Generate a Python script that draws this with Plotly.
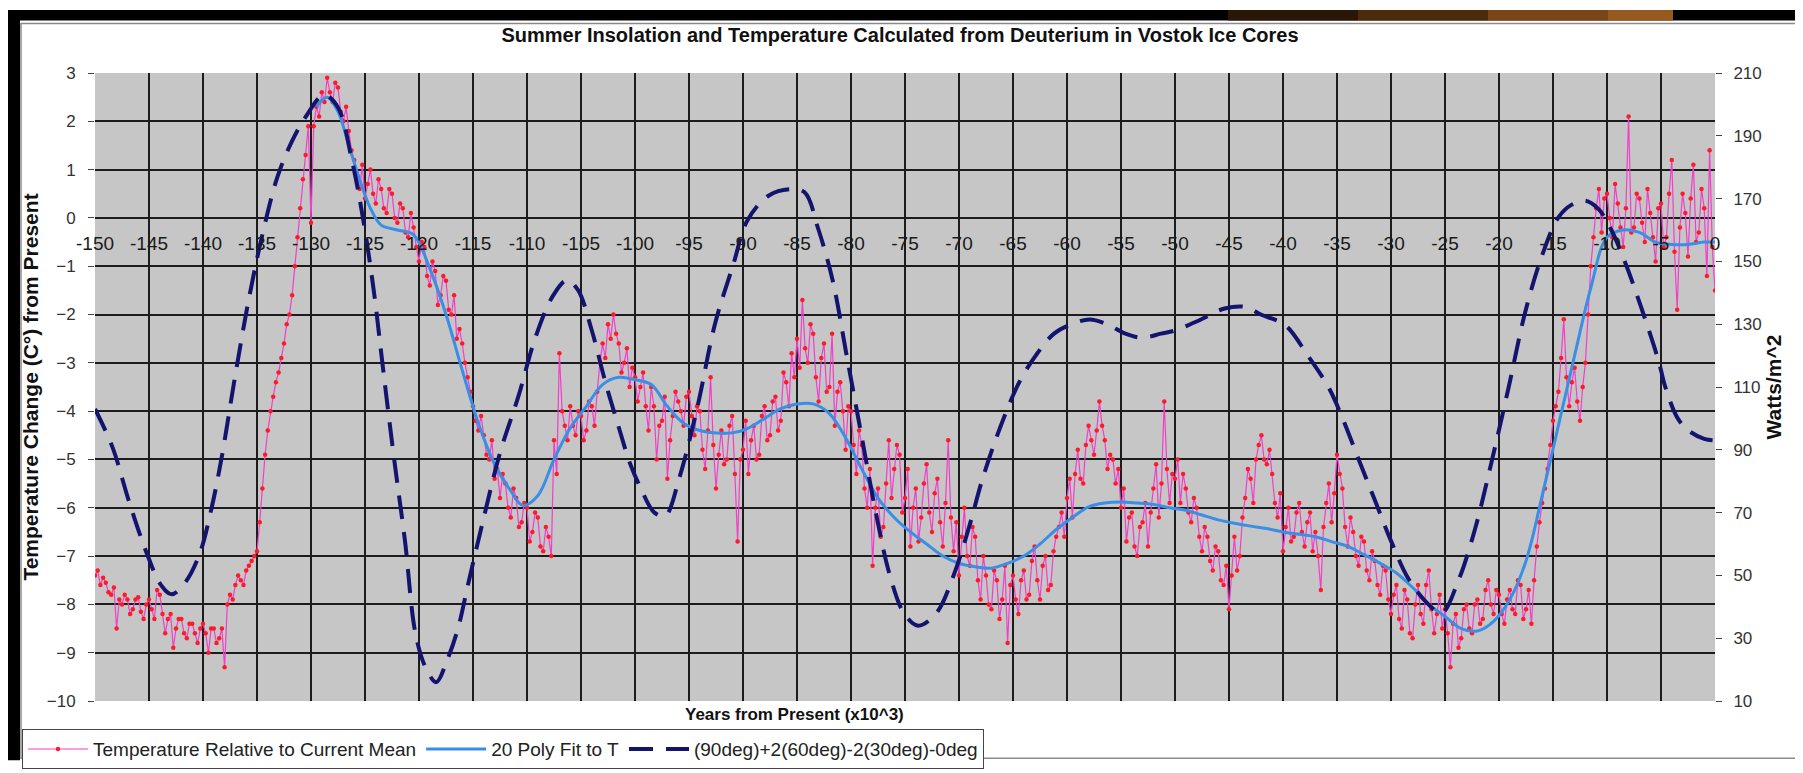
import plotly.graph_objects as go

# ---------------- data ----------------
# Temperature relative to current mean (deg C), sampled every 0.25 kyr from -150 to 0
temp_start, temp_step = -150.0, 0.25
temp_values = [
    # -150
    -7.4, -7.3, -7.6, -7.45, -7.55, -7.75, -7.8, -7.65, -8.5, -7.9,
    -8.0, -7.8, -7.9, -8.2, -8.1, -7.9, -7.85, -8.15, -8.3, -8.0,
    # -145
    -7.9, -8.1, -8.3, -7.7, -7.8, -8.2, -8.6, -8.3, -8.2, -8.9,
    -8.5, -8.3, -8.3, -8.6, -8.7, -8.4, -8.4, -8.6, -8.8, -8.5,
    # -140
    -8.4, -8.6, -9.0, -8.5, -8.5, -8.8, -8.7, -8.5, -9.3, -8.0,
    -7.8, -7.9, -7.6, -7.4, -7.5, -7.6, -7.3, -7.2, -7.1, -7.0,
    # -135
    -6.9, -6.3, -5.6, -4.9, -4.4, -4.0, -3.7, -3.4, -3.2, -2.9,
    -2.6, -2.2, -2.0, -1.6, -1.0, -0.4, 0.2, 0.8, 1.3, 1.9,
    # -130
    -0.1, 1.9, 2.3, 2.1, 2.6, 2.4, 2.9, 2.6, 2.4, 2.8,
    2.7, 2.2, 2.0, 2.3, 1.8, 1.4, 1.2, 0.9, 0.6, 1.1,
    # -125
    0.4, 0.7, 1.0, 0.5, 0.3, 0.8, 0.6, 0.2, 0.1, 0.6,
    0.5, 0.0, -0.1, 0.3, 0.2, -0.3, -0.4, 0.1, -0.2, -0.6,
    # -120
    -0.9, -0.5, -0.6, -1.2, -1.4, -0.9, -1.1, -1.8, -1.6, -1.2,
    -1.3, -1.9, -2.0, -1.6, -2.5, -2.3, -2.6, -3.0, -3.3, -3.6,
    # -115
    -3.9, -4.2, -4.4, -4.1, -4.5, -4.9, -5.0, -4.6, -5.4, -5.2,
    -5.8, -5.3, -5.5, -6.0, -6.2, -5.6, -5.8, -6.4, -6.3, -5.9,
    # -110
    -6.0, -6.7, -6.5, -6.1, -6.2, -6.8, -6.9, -6.4, -6.6, -7.0,
    -4.6, -5.3, -2.8, -4.0, -4.3, -4.6, -3.9, -4.3, -4.5, -4.0,
    # -105
    -4.1, -4.6, -4.4, -3.8, -3.9, -4.3, -3.6, -3.0, -2.6, -2.9,
    -2.2, -2.5, -2.0, -2.4, -2.6, -3.2, -3.0, -2.7, -3.5, -3.1,
    # -100
    -3.3, -3.8, -3.5, -3.2, -3.9, -4.4, -3.5, -3.9, -5.0, -4.3,
    -4.2, -3.7, -5.4, -4.6, -4.1, -3.6, -3.8, -4.0, -4.3, -3.7,
    # -95
    -3.6, -4.1, -4.5, -3.9, -4.0, -4.8, -5.2, -4.4, -3.3, -4.7,
    -5.6, -4.9, -4.4, -5.1, -5.0, -4.3, -4.1, -5.3, -6.7, -5.0,
    # -90
    -4.8, -4.2, -5.3, -4.6, -4.3, -5.0, -4.9, -4.1, -3.9, -4.6,
    -4.5, -3.8, -3.7, -4.4, -4.2, -3.2, -3.4, -3.9, -2.8, -3.3,
    # -85
    -2.5, -3.1, -1.7, -2.7, -3.0, -2.2, -2.4, -3.3, -3.8, -2.9,
    -2.6, -3.6, -3.5, -2.4, -4.3, -3.6, -3.4, -4.0, -4.8, -3.9,
    # -80
    -4.0, -4.7, -5.3, -4.4, -4.7, -5.6, -6.0, -5.2, -7.2, -6.0,
    -5.6, -6.6, -6.4, -5.5, -4.6, -5.8, -5.2, -4.7, -4.9, -6.1,
    # -75
    -5.8, -5.2, -6.8, -6.0, -5.6, -6.7, -6.2, -5.5, -5.1, -6.1,
    -6.5, -5.7, -5.4, -6.3, -6.8, -5.9, -4.6, -6.2, -6.9, -6.3,
    # -70
    -7.4, -6.6, -6.0, -7.0, -7.2, -6.4, -6.6, -7.5, -7.9, -7.0,
    -7.4, -8.0, -8.1, -7.3, -7.5, -8.3, -7.9, -7.2, -8.8, -7.6,
    # -65
    -7.4, -7.9, -8.2, -7.5, -7.3, -7.9, -7.8, -7.1, -6.8, -7.5,
    -7.9, -7.2, -7.0, -7.7, -7.6, -6.9, -6.6, -6.4, -6.1, -6.6,
    # -60
    -5.8, -5.4, -6.2, -5.3, -4.8, -5.4, -5.5, -4.7, -4.3, -4.6,
    -4.9, -4.4, -3.8, -4.3, -4.6, -5.2, -4.9, -5.0, -5.5, -5.2,
    # -55
    -6.0, -5.6, -6.7, -6.2, -6.1, -6.8, -7.0, -6.4, -6.3, -5.9,
    -6.8, -6.1, -5.6, -5.1, -6.2, -5.5, -3.8, -5.2, -5.9, -5.3,
    # -50
    -5.4, -5.0, -5.9, -5.3, -5.6, -6.1, -6.3, -5.8, -6.0, -6.6,
    -6.9, -6.4, -6.6, -7.1, -7.3, -6.8, -6.9, -7.5, -7.6, -7.2,
    # -45
    -8.1, -7.4, -6.6, -7.3, -7.0, -6.2, -5.8, -5.2, -5.4, -5.9,
    -5.0, -4.7, -4.5, -5.0, -5.1, -4.8, -5.3, -5.9, -6.2, -5.7,
    # -40
    -6.9, -6.4, -6.0, -6.7, -6.6, -6.1, -5.9, -6.5, -6.8, -6.3,
    -6.1, -6.9, -6.5, -7.0, -7.7, -6.4, -5.9, -5.5, -6.3, -5.7,
    # -35
    -4.9, -5.3, -5.6, -6.4, -6.8, -6.2, -6.5, -7.0, -7.2, -6.6,
    -6.7, -7.3, -7.5, -6.9, -7.1, -7.6, -7.8, -7.2, -7.3, -7.9,
    # -30
    -8.2, -7.8, -7.6, -8.3, -8.5, -7.7, -7.9, -8.6, -8.7, -8.0,
    -7.6, -8.2, -8.4, -7.6, -7.3, -8.1, -8.6, -8.2, -7.8, -8.5,
    # -25
    -8.1, -8.6, -9.3, -8.4, -8.2, -8.9, -8.7, -8.1, -8.0, -8.5,
    -8.6, -8.0, -7.9, -8.4, -8.3, -7.7, -7.5, -8.0, -8.2, -7.7,
    # -20
    -7.8, -8.2, -8.4, -7.9, -7.7, -8.1, -8.2, -7.5, -7.6, -8.3,
    -8.1, -7.7, -8.4, -7.5, -6.8, -6.3, -5.9, -5.6, -5.2, -4.7,
    # -15
    -4.2, -3.9, -3.6, -2.9, -2.1, -3.3, -3.9, -3.4, -3.1, -3.8,
    -4.2, -3.5, -3.0, -2.0, -1.0, -0.4, 0.2, 0.6, -0.3, 0.4,
    # -10
    0.5, 0.0, -0.4, 0.7, 0.3, -0.2, -0.6, 0.2, 2.1, -0.3,
    -0.2, 0.5, 0.4, -0.1, -0.5, 0.6, 0.1, -0.4, -0.9, 0.2,
    # -5
    0.3, -0.6, -0.4, 0.5, 1.2, -0.7, -1.9, -0.2, 0.5, 0.1,
    -0.8, 0.4, 1.1, -0.5, -0.3, 0.6, 0.2, -1.2, 1.4, -0.6,
    # 0
    -1.5,
]
temp_years = [temp_start + temp_step * i for i in range(len(temp_values))]

# 20th-order polynomial fit to T (deg C)
fit_years = [-129.5, -128.5, -127.5, -126.5, -125.5, -124.5, -123.5, -122, -120.5, -119,
             -117.5, -116, -114.5, -113, -111.5, -110.4, -109, -107.5, -106, -104.5,
             -103, -101.5, -100, -98.5, -97, -95.5, -94, -92.5, -91, -89.5,
             -88, -86.5, -85, -83.5, -82, -80.5, -79, -77.5, -76, -74.5,
             -73, -71.5, -70, -68.5, -67, -65.5, -64, -62.5, -61, -59.5,
             -58, -56.5, -55, -53.5, -52, -50.5, -49, -47.5, -46, -44.5,
             -43, -41.5, -40, -38.5, -37, -35.5, -34, -32.5, -31, -29.5,
             -28, -26.5, -25, -23.5, -22, -20.5, -19, -17.5, -16, -14.5,
             -13, -11.5, -10, -8.5, -7, -5.5, -4, -2.5, -1, 0]
fit_values = [2.3, 2.5, 2.2, 1.5, 0.8, 0.2, -0.15, -0.25, -0.35, -1.05,
              -2.0, -3.15, -4.25, -5.1, -5.65, -5.95, -5.75, -5.0, -4.35, -3.9,
              -3.45, -3.3, -3.35, -3.45, -3.9, -4.25, -4.4, -4.45, -4.45, -4.35,
              -4.15, -3.95, -3.85, -3.85, -4.05, -4.55, -5.2, -5.8, -6.2, -6.5,
              -6.75, -7.0, -7.15, -7.22, -7.25, -7.15, -7.0, -6.75, -6.45, -6.2,
              -5.98, -5.9, -5.88, -5.9, -5.93, -6.0, -6.05, -6.15, -6.25, -6.32,
              -6.38, -6.43, -6.5, -6.55, -6.6, -6.7, -6.8, -6.97, -7.15, -7.35,
              -7.65, -8.0, -8.25, -8.5, -8.55, -8.35, -7.9, -7.1, -5.75, -4.3,
              -2.85, -1.45, -0.4, -0.25, -0.3, -0.5, -0.55, -0.55, -0.5, -0.5]

# Summer insolation (W/m^2), right axis
ins_years = [-150, -148.4, -146.8, -145.2, -143.9, -142.9, -141.6, -140.3, -139.3, -138.3,
             -137, -135.7, -134.4, -133.1, -131.8, -130.5, -128.8, -127.5, -126.2, -125.2,
             -124.2, -123.3, -122.3, -121.3, -120.3, -119.3, -118.4, -117.4, -116.4, -115.4,
             -114.1, -112.5, -110.8, -109.2, -107.6, -106.3, -105.3, -104, -102.7, -101.4,
             -100.5, -99.5, -98.2, -97.2, -95.9, -94.2, -92.6, -90.9, -89.6, -87.6,
             -85.6, -84.3, -83, -81.7, -80.4, -79, -77.7, -76.4, -75.1, -73.8,
             -72.1, -70.5, -69.1, -67.8, -66.2, -64.5, -62.9, -61.2, -59.6, -57.9,
             -56.3, -54.6, -53, -51.3, -50, -47.6, -45.4, -43.5, -42, -39.8,
             -37.7, -35.8, -34.6, -33, -31.5, -30, -28.4, -26.6, -25.3, -23.8,
             -22.2, -20.7, -19.1, -17.6, -16, -14.5, -13.3, -12, -10.8, -9.6,
             -8.3, -6.8, -5.2, -4.6, -3.45, -2.4, -1, 0]
ins_values = [103, 91, 73, 57, 47, 44, 48, 57, 70, 87,
              114, 139, 160, 177, 188, 196, 203, 199, 182, 164,
              141, 115, 87, 61, 31, 20, 16, 23, 33, 48,
              67, 89, 107, 126, 139, 144, 141, 128, 111, 96,
              86, 78, 70, 69, 81, 104, 130, 149, 163, 171,
              173, 172, 160, 144, 120, 94, 70, 50, 38, 34,
              38, 50, 65, 81, 97, 111, 120, 127, 130, 131.5,
              130, 127, 125.7, 127, 128, 131.5, 135, 135.5, 133, 129.7,
              120, 110, 101, 87, 74, 61, 49, 41, 38, 48,
              65, 86, 110, 133.5, 152, 164, 168, 169.3, 166.7, 160,
              149.5, 135, 118, 110, 100, 96, 93.5, 93]

x_ticks = list(range(-150, 1, 5))
x_tick_labels = [str(v) for v in x_ticks]
left_ticks = list(range(-10, 4))
right_ticks = list(range(10, 211, 20))

names = ["Temperature Relative to Current Mean", "20 Poly Fit to T",
         "(90deg)+2(60deg)-2(30deg)-0deg"]

# ---------------- layout geometry (pixels) ----------------
W, H = 1803, 773
L, R, T, B = 87, 96, 65, 61
PW, PH = W - L - R, H - T - B


def fx(p):
    return (p - L) / PW


def fy(p):
    return (H - B - p) / PH


FONT = "Liberation Sans, Arial, sans-serif"

fig = go.Figure()
fig.add_trace(go.Scatter(
    x=temp_years, y=temp_values, name=names[0], mode="lines+markers",
    line=dict(color="#f040c8", width=1.2),
    marker=dict(color="#ff1a2a", size=4.5, line=dict(width=0)),
    yaxis="y"))
fig.add_trace(go.Scatter(
    x=fit_years, y=fit_values, name=names[1], mode="lines",
    line=dict(color="#3a8ee6", width=3, shape="spline"), yaxis="y"))
fig.add_trace(go.Scatter(
    x=ins_years, y=ins_values, name=names[2], mode="lines",
    line=dict(color="#14146e", width=4, dash="24px,13px", shape="spline"),
    yaxis="y2"))

shapes = [
    # dark slide background around the chart
    dict(type="rect", xref="paper", yref="paper", x0=fx(0), x1=fx(W), y0=fy(0), y1=fy(11),
         fillcolor="black", line=dict(width=0)),
    dict(type="rect", xref="paper", yref="paper", x0=fx(0), x1=fx(12), y0=fy(0), y1=fy(H),
         fillcolor="black", line=dict(width=0)),
    dict(type="rect", xref="paper", yref="paper", x0=fx(1793), x1=fx(W), y0=fy(0), y1=fy(H),
         fillcolor="black", line=dict(width=0)),
    dict(type="rect", xref="paper", yref="paper", x0=fx(1220), x1=fx(1350), y0=fy(0), y1=fy(11),
         fillcolor="#2a1606", line=dict(width=0)),
    dict(type="rect", xref="paper", yref="paper", x0=fx(1350), x1=fx(1480), y0=fy(0), y1=fy(11),
         fillcolor="#4d2a0b", line=dict(width=0)),
    dict(type="rect", xref="paper", yref="paper", x0=fx(1480), x1=fx(1600), y0=fy(0), y1=fy(11),
         fillcolor="#7a4616", line=dict(width=0)),
    dict(type="rect", xref="paper", yref="paper", x0=fx(1600), x1=fx(1665), y0=fy(0), y1=fy(11),
         fillcolor="#965a1e", line=dict(width=0)),
    # chart frame
    dict(type="rect", xref="paper", yref="paper", x0=fx(13), x1=fx(1792), y0=fy(14), y1=fy(771),
         line=dict(color="#8a8a8a", width=1.5)),
]

fig.update_layout(
    width=W, height=H,
    margin=dict(l=L, r=R, t=T, b=B, pad=0),
    paper_bgcolor="white", plot_bgcolor="#c6c6c6",
    font=dict(family=FONT, color="#222222"),
    title=dict(text="<b>Summer Insolation and Temperature Calculated from Deuterium in Vostok Ice Cores</b>",
               x=892 / W, xanchor="center", y=1 - 27 / H, yanchor="middle",
               font=dict(size=20, color="#111111")),
    xaxis=dict(range=[-150, 0], tickvals=x_ticks, ticktext=x_tick_labels,
               showgrid=True, gridcolor="#1c1c1c", gridwidth=1.6, zeroline=False,
               anchor="free", position=10 / 13, side="bottom", ticks="",
               ticklabelstandoff=12, tickfont=dict(size=19, color="#1a1a1a"),
               showline=False),
    yaxis=dict(range=[-10, 3], tickvals=left_ticks, showgrid=True, gridcolor="#1c1c1c",
               gridwidth=2, zeroline=False, ticks="outside", ticklen=6, tickcolor="#444",
               tickfont=dict(size=17, color="#333333"), ticklabelstandoff=9,
               title=dict(text="<b>Temperature Change (C°) from Present</b>",
                          font=dict(size=21, color="#111111"), standoff=2)),
    yaxis2=dict(range=[10, 210], tickvals=right_ticks, overlaying="y", side="right",
                showgrid=False, zeroline=False, ticks="outside", ticklen=6, tickcolor="#444",
                tickfont=dict(size=17, color="#333333"), ticklabelstandoff=8,
                title=dict(text="<b>Watts/m^2</b>", font=dict(size=21, color="#111111"),
                           standoff=5)),
    legend=dict(orientation="h", x=fx(14), y=fy(741), xanchor="left", yanchor="top",
                bgcolor="white", bordercolor="#444444", borderwidth=1,
                font=dict(size=19, color="#222222"), itemwidth=60, tracegroupgap=0),
    annotations=[dict(text="<b>Years from Present (x10^3)</b>", xref="paper", yref="paper",
                      x=fx(786), y=fy(726), xanchor="center", yanchor="middle",
                      showarrow=False, font=dict(size=17, color="#111111"))],
    shapes=shapes,
    showlegend=True,
)

fig.write_html("out.html")
